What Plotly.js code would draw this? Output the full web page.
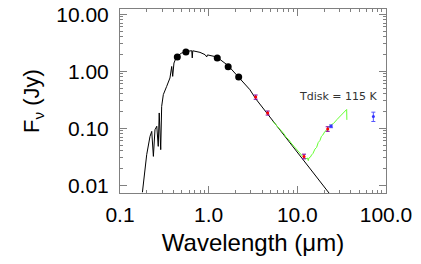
<!DOCTYPE html>
<html>
<head>
<meta charset="utf-8">
<script src="https://cdn.plot.ly/plotly-3.0.1.min.js"></script>
<style>html,body{margin:0;padding:0;background:#fff;}#chart{width:421px;height:264px;}</style>
</head>
<body>
<div id="chart"></div>
<script>
// Stellar photosphere / optical-UV spectrum (black line)
var modelWave = [0.179, 0.191, 0.200, 0.218, 0.228, 0.238, 0.248, 0.260, 0.270, 0.277, 0.288, 0.295, 0.308, 0.336, 0.366, 0.383, 0.393, 0.406, 0.436, 0.496, 0.565, 0.644, 0.653, 0.662, 0.798, 0.910, 0.951, 0.970, 1.23, 1.66, 2.16, 2.92, 3.39, 5.0, 10.0, 20.0, 25.0];
var modelFlux = [0.0075, 0.0164, 0.0343, 0.0718, 0.0879, 0.032, 0.094, 0.108, 0.048, 0.185, 0.042, 0.241, 0.388, 0.541, 0.760, 1.21, 0.811, 1.39, 1.82, 2.08, 2.22, 2.29, 1.71, 2.28, 2.14, 1.95, 1.78, 1.93, 1.78, 1.25, 0.81, 0.473, 0.329, 0.151, 0.0378, 0.00945, 0.00605];

// Optical / near-IR photometry (black circles)
var photWave = [0.443, 0.554, 1.25, 1.66, 2.18];
var photFlux = [1.77, 2.17, 1.71, 1.20, 0.79];

// WISE photometry (red)
var wiseWave = [3.39, 4.63, 11.9, 22.0];
var wiseFlux = [0.352, 0.185, 0.032, 0.097];
var wiseErr = [0.03, 0.015, 0.003, 0.009];

// MIPS photometry (blue)
var mipsWave = [24.0, 72.0];
var mipsFlux = [0.108, 0.161];
var mipsErr = [0.006, 0.03];

// IRS spectrum (green)
var irsWave = [5.3, 5.6, 6.0, 6.5, 7.0, 7.5, 8.0, 8.5, 9.0, 9.5, 10.0, 10.5, 11.0, 11.5, 12.0, 12.5, 13.0, 13.3, 13.5, 14.0, 14.5, 15.0, 15.8, 16.5, 17.2, 18.0, 18.7, 19.4, 20.5, 22.0, 23.5, 25.6, 28.0, 30.0, 32.0, 34.4, 36.0, 36.2];
var irsFlux = [0.132, 0.120, 0.107, 0.090, 0.081, 0.069, 0.063, 0.055, 0.050, 0.045, 0.041, 0.037, 0.035, 0.032, 0.031, 0.029, 0.030, 0.027, 0.030, 0.031, 0.034, 0.036, 0.043, 0.046, 0.056, 0.061, 0.072, 0.076, 0.088, 0.096, 0.112, 0.121, 0.142, 0.158, 0.180, 0.195, 0.213, 0.140];

var xTickVals = [0.1, 1, 10, 100];
var xTickText = ['0.1', '1.0', '10.0', '100.0'];
var yTickVals = [0.01, 0.1, 1, 10];
var yTickText = ['0.01', '0.10', '1.00', '10.00'];
var xMinor = [0.2,0.3,0.4,0.5,0.6,0.7,0.8,0.9,2,3,4,5,6,7,8,9,20,30,40,50,60,70,80,90];
var yMinor = [0.02,0.03,0.04,0.05,0.06,0.07,0.08,0.09,0.2,0.3,0.4,0.5,0.6,0.7,0.8,0.9,2,3,4,5,6,7,8,9];

var traces = [
  {x: modelWave, y: modelFlux, mode: 'lines', line: {color: '#000', width: 1}, hoverinfo: 'skip'},
  {x: irsWave, y: irsFlux, mode: 'lines', line: {color: '#66ff33', width: 1}},
  {x: photWave, y: photFlux, mode: 'markers', marker: {color: '#000', size: 7}},
  {x: wiseWave, y: wiseFlux, mode: 'markers', marker: {color: '#ff0000', size: 3},
   error_y: {type: 'data', array: wiseErr, color: '#8000a0', thickness: 1, width: 2}},
  {x: mipsWave, y: mipsFlux, mode: 'markers', marker: {color: '#3333ff', size: 3},
   error_y: {type: 'data', array: mipsErr, color: '#5555ff', thickness: 1, width: 2}}
];

var axisCommon = {
  type: 'log', showgrid: false, zeroline: false, showline: true, linecolor: '#808080', linewidth: 1,
  mirror: 'allticks', ticks: 'inside', tickcolor: '#808080', ticklen: 7, tickwidth: 1,
  tickmode: 'array', tickfont: {family: 'Liberation Sans, Arial, sans-serif', size: 21, color: '#000'}
};

var layout = {
  width: 421, height: 264,
  margin: {l: 120, r: 35, t: 9, b: 71},
  paper_bgcolor: '#fff', plot_bgcolor: '#fff',
  showlegend: false,
  font: {family: 'Liberation Sans, Arial, sans-serif', color: '#000'},
  xaxis: Object.assign({}, axisCommon, {
    range: [-1, 2], tickvals: xTickVals, ticktext: xTickText, ticklabelstandoff: 3,
    minor: {tickmode: 'array', tickvals: xMinor, ticks: 'inside', ticklen: 3, tickcolor: '#808080'},
    title: {text: 'Wavelength (\u03bcm)', font: {size: 24, color: '#000'}, standoff: 8}
  }),
  yaxis: Object.assign({}, axisCommon, {
    range: [-2.137, 1.091], tickvals: yTickVals, ticktext: yTickText, ticklabelstandoff: 6,
    minor: {tickmode: 'array', tickvals: yMinor, ticks: 'inside', ticklen: 3, tickcolor: '#808080'},
    title: {text: 'F<sub>\u03bd</sub> (Jy)', font: {size: 22, color: '#000'}, standoff: 10}
  }),
  annotations: [{
    xref: 'paper', yref: 'paper', x: 0.977, y: 0.525, xanchor: 'right', yanchor: 'middle',
    text: 'Tdisk = 115 K', showarrow: false,
    font: {family: 'DejaVu Sans, sans-serif', size: 11, color: '#333'}
  }]
};

Plotly.newPlot('chart', traces, layout, {displayModeBar: false, staticPlot: true});
</script>
</body>
</html>
